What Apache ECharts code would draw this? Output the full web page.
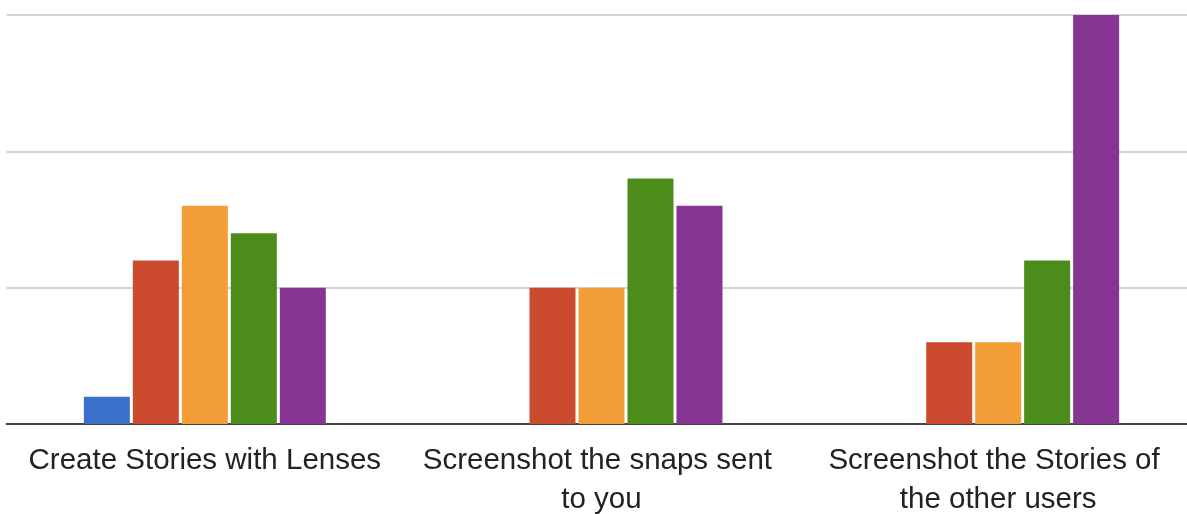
<!DOCTYPE html>
<html>
<head>
<meta charset="utf-8">
<script src="https://cdn.jsdelivr.net/npm/echarts@6/dist/echarts.min.js"></script>
<style>
html,body{margin:0;padding:0;background:#fff;}
#chart{width:1187px;height:514px;}
</style>
</head>
<body>
<div id="chart"></div>
<script>
var categories = ["Create Stories with Lenses", "Screenshot the snaps sent to you", "Screenshot the Stories of the other users"];
var seriesNames = ["S1", "S2", "S3", "S4", "S5"];
var s1 = [1, 0, 0];
var s2 = [6, 5, 3];
var s3 = [8, 5, 3];
var s4 = [7, 9, 6];
var s5 = [5, 8, 15];
var yTicks = [0, 5, 10, 15];

var colors = ["#3a70cc", "#cc4b2e", "#f29d35", "#4b8c1a", "#863593"];
var data = [s1, s2, s3, s4, s5];

var chart = echarts.init(document.getElementById('chart'), null, {renderer: 'canvas'});
chart.setOption({
  animation: false,
  grid: {left: 6.5, top: 15, width: 1190, height: 409, containLabel: false, outerBoundsMode: 'none'},
  xAxis: {
    type: 'category',
    data: categories,
    axisLine: {lineStyle: {color: '#444', width: 2}},
    axisTick: {show: false},
    axisLabel: {
      interval: 0,
      color: '#222',
      fontFamily: 'Liberation Sans, Arial, sans-serif',
      fontSize: 29.5,
      lineHeight: 39,
      margin: 17,
      width: 366,
      overflow: 'break'
    }
  },
  yAxis: {
    type: 'value',
    min: yTicks[0],
    max: yTicks[yTicks.length - 1],
    interval: yTicks[1] - yTicks[0],
    axisLabel: {show: false},
    axisLine: {show: false},
    axisTick: {show: false},
    splitLine: {lineStyle: {color: '#d4d4d4', width: 2}}
  },
  series: data.map(function (d, i) {
    return {
      name: seriesNames[i],
      type: 'bar',
      data: d,
      barWidth: 46,
      barGap: '6.5%',
      itemStyle: {color: colors[i]}
    };
  })
});
</script>
</body>
</html>
